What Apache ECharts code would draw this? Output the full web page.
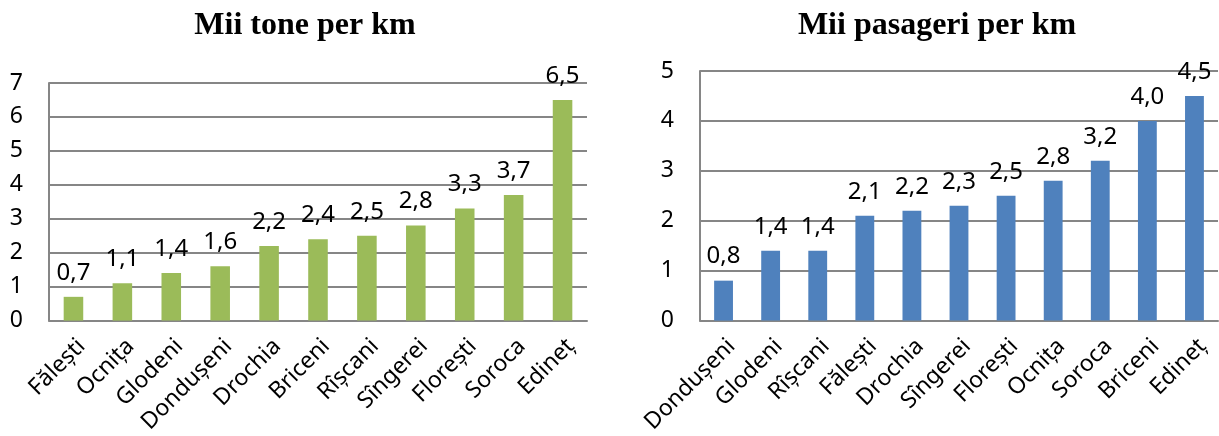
<!DOCTYPE html>
<html>
<head>
<meta charset="utf-8">
<script src="https://cdn.jsdelivr.net/npm/echarts@6/dist/echarts.min.js"></script>
<style>
  html, body { margin: 0; padding: 0; background: #fff; }
  #chart { width: 1219px; height: 436px; }
</style>
</head>
<body>
<div id="chart"></div>
<script>
// Mii tone per km
const tonCities = ['Fălești', 'Ocnița', 'Glodeni', 'Dondușeni', 'Drochia', 'Briceni', 'Rîșcani', 'Sîngerei', 'Florești', 'Soroca', 'Edineț']
const tonValues = [0.7, 1.1, 1.4, 1.6, 2.2, 2.4, 2.5, 2.8, 3.3, 3.7, 6.5]
// Mii pasageri per km
const pasCities = ['Dondușeni', 'Glodeni', 'Rîșcani', 'Fălești', 'Drochia', 'Sîngerei', 'Florești', 'Ocnița', 'Soroca', 'Briceni', 'Edineț']
const pasValues = [0.8, 1.4, 1.4, 2.1, 2.2, 2.3, 2.5, 2.8, 3.2, 4.0, 4.5]

const FONT = 'Noto Sans'
const GRID_LINE = '#868686'

const fmt = v => v.toFixed(1).replace('.', ',')

function xAxisOf (data, gridIndex) {
  return {
    type: 'category',
    gridIndex,
    data,
    axisTick: { show: false },
    axisLine: { lineStyle: { color: GRID_LINE, width: 2 } },
    axisLabel: {
      rotate: 45,
      margin: 14,
      interval: 0,
      verticalAlign: 'top',
      color: '#000',
      fontFamily: FONT,
      fontSize: 23
    }
  }
}

function yAxisOf (max, gridIndex) {
  return {
    type: 'value',
    gridIndex,
    min: 0,
    max,
    interval: 1,
    axisTick: { show: false },
    axisLine: { show: true, lineStyle: { color: GRID_LINE, width: 2 } },
    axisLabel: { color: '#000', fontFamily: FONT, fontSize: 23, margin: 26 },
    splitLine: { lineStyle: { color: GRID_LINE, width: 2 } }
  }
}

function seriesOf (values, color, idx) {
  return {
    type: 'bar',
    xAxisIndex: idx,
    yAxisIndex: idx,
    data: values,
    barWidth: '40%',
    itemStyle: { color },
    label: {
      show: true,
      position: 'top',
      distance: 12,
      color: '#000',
      fontFamily: FONT,
      fontSize: 24,
      formatter: p => fmt(p.value)
    }
  }
}

const titleStyle = {
  fontFamily: 'Liberation Serif',
  fontWeight: 'bold',
  fontSize: 32,
  color: '#000'
}

const option = {
  animation: false,
  title: [
    { text: 'Mii tone per km', left: 300, top: 5, textAlign: 'center', textStyle: titleStyle },
    { text: 'Mii pasageri per km', left: 932, top: 5, textAlign: 'center', textStyle: titleStyle }
  ],
  grid: [
    { left: 49, right: 632, top: 83, bottom: 115 },
    { left: 700, right: 1, top: 71, bottom: 115 }
  ],
  xAxis: [xAxisOf(tonCities, 0), xAxisOf(pasCities, 1)],
  yAxis: [yAxisOf(7, 0), yAxisOf(5, 1)],
  series: [
    seriesOf(tonValues, '#9BBB59', 0),
    seriesOf(pasValues, '#4F81BD', 1)
  ]
}

const myChart = echarts.init(document.getElementById('chart'))
myChart.setOption(option)
</script>
</body>
</html>
